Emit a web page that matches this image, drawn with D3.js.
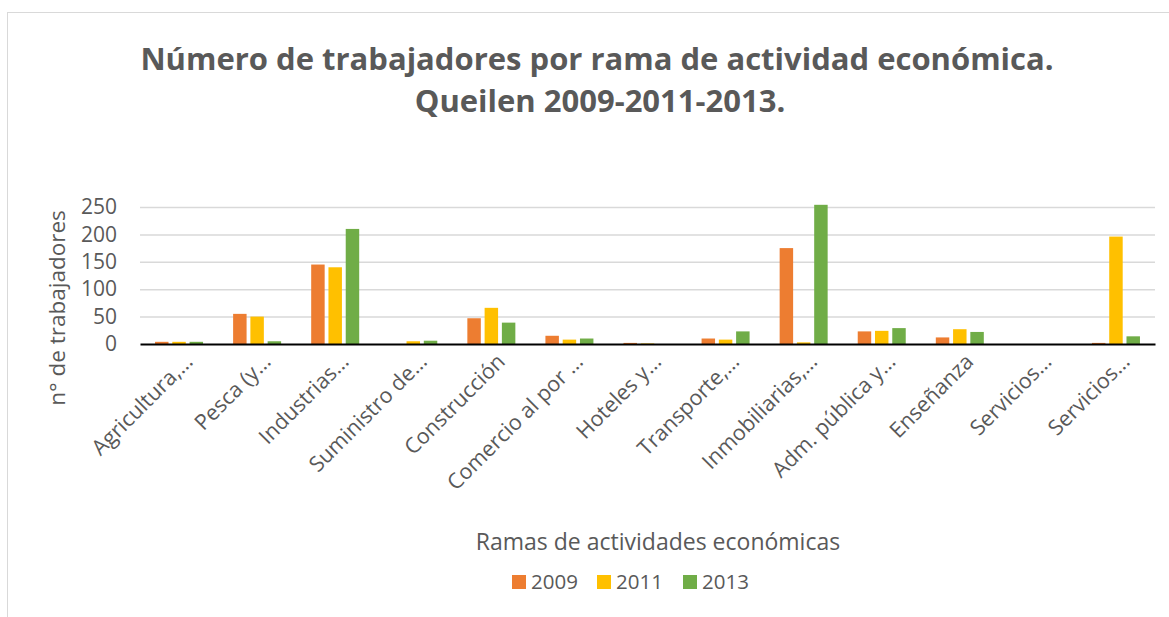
<!DOCTYPE html>
<meta charset="UTF-8">
<style>
    body { margin: 0; background: #fff; }
    text { font-family: "Open Sans", sans-serif; fill: #595959; }
    .grid line { stroke: #d9d9d9; stroke-width: 1.5px; }
</style>
<body>
<div id="chart"></div>
<script src="https://d3js.org/d3.v7.min.js"></script>
<script>

// categories and series values
var categories = ["Agricultura,…", "Pesca (y…", "Industrias…", "Suministro de…", "Construcción",
    "Comercio al por …", "Hoteles y…", "Transporte,…", "Inmobiliarias,…", "Adm. pública y…",
    "Enseñanza", "Servicios…", "Servicios…"];
var years = ["2009", "2011", "2013"];
var v2009 = [4, 55, 145, 0, 47, 15, 2, 10, 175, 23, 12, 0, 2];
var v2011 = [4, 50, 140, 5, 66, 8, 1, 8, 3, 24, 27, 0, 196];
var v2013 = [4, 5, 210, 6, 39, 10, 0, 23, 254, 29, 22, 0, 14];
var yTicks = [0, 50, 100, 150, 200, 250];
var colors = ["#ED7D31", "#FFC000", "#70AD47"];

var series = [v2009, v2011, v2013];

var width = 1169, height = 617;
var margin = {top: 207, right: 14, bottom: 273, left: 140};
var innerW = width - margin.left - margin.right,
    innerH = 344 - margin.top;

var svg = d3.select("#chart").append("svg")
    .attr("width", width)
    .attr("height", height);

// outer frame
svg.append("rect")
    .attr("x", 7.5).attr("y", 12.5)
    .attr("width", width + 10).attr("height", height + 10)
    .attr("fill", "none")
    .attr("stroke", "#d9d9d9")
    .attr("stroke-width", 1);

// title
var title = svg.append("text")
    .attr("text-anchor", "middle")
    .style("font-size", "31px")
    .style("font-weight", "bold");
title.append("tspan").attr("x", 597).attr("y", 70)
    .text("Número de trabajadores por rama de actividad económica.");
title.append("tspan").attr("x", 600).attr("y", 112)
    .text("Queilen 2009-2011-2013.");

var g = svg.append("g")
    .attr("transform", "translate(" + margin.left + "," + margin.top + ")");

var x0 = d3.scaleBand().domain(d3.range(categories.length)).range([0, innerW]);
var x1 = d3.scaleBand().domain(years)
    .range([x0.bandwidth() / 2 - 24, x0.bandwidth() / 2 + 24])
    .paddingInner(0.22);
var y = d3.scaleLinear().domain([0, 250]).range([innerH, 0]);

// gridlines
g.append("g")
    .attr("class", "grid")
    .call(d3.axisLeft(y).tickValues(yTicks.slice(1)).tickSize(-innerW).tickFormat(""))
    .call(function(s) { s.select(".domain").remove(); });

// y labels
g.append("g")
    .call(d3.axisLeft(y).tickValues(yTicks).tickSize(0).tickPadding(23))
    .call(function(s) {
        s.select(".domain").remove();
        s.selectAll("text").style("font-size", "21px").attr("fill", "#595959");
    });

// bars
var groups = g.selectAll(".cat")
    .data(categories)
    .enter().append("g")
    .attr("transform", function(d, i) { return "translate(" + x0(i) + ",0)"; });

groups.selectAll("rect")
    .data(function(d, i) { return series.map(function(s, k) { return {year: years[k], value: s[i], k: k}; }); })
    .enter().append("rect")
    .attr("x", function(d) { return x1(d.year); })
    .attr("width", x1.bandwidth())
    .attr("y", function(d) { return y(d.value); })
    .attr("height", function(d) { return innerH - y(d.value); })
    .attr("fill", function(d) { return colors[d.k]; });

// x axis
var xAxis = g.append("g")
    .attr("transform", "translate(0," + innerH + ")")
    .call(d3.axisBottom(x0).tickSize(0).tickFormat(function(i) { return categories[i]; }));
xAxis.select(".domain").attr("stroke", "#000").attr("stroke-width", 2);
xAxis.selectAll("text")
    .style("font-size", "21.5px")
    .attr("fill", "#595959")
    .style("text-anchor", "end")
    .attr("dx", 0).attr("dy", 0).attr("y", 0)
    .attr("transform", "translate(15,19) rotate(-45)");

// axis titles
svg.append("text")
    .attr("transform", "translate(65,308) rotate(-90)")
    .attr("text-anchor", "middle")
    .style("font-size", "22.5px")
    .text("n° de trabajadores");

svg.append("text")
    .attr("x", 658).attr("y", 550)
    .attr("text-anchor", "middle")
    .style("font-size", "23px")
    .text("Ramas de actividades económicas");

// legend
var legend = svg.append("g").attr("transform", "translate(512,575)");
var lx = [0, 85, 171];
years.forEach(function(yr, k) {
    legend.append("rect")
        .attr("x", lx[k]).attr("y", 0)
        .attr("width", 14).attr("height", 14)
        .attr("fill", colors[k]);
    legend.append("text")
        .attr("x", lx[k] + 19).attr("y", 14)
        .style("font-size", "20.5px")
        .text(yr);
});

</script>
</body>
